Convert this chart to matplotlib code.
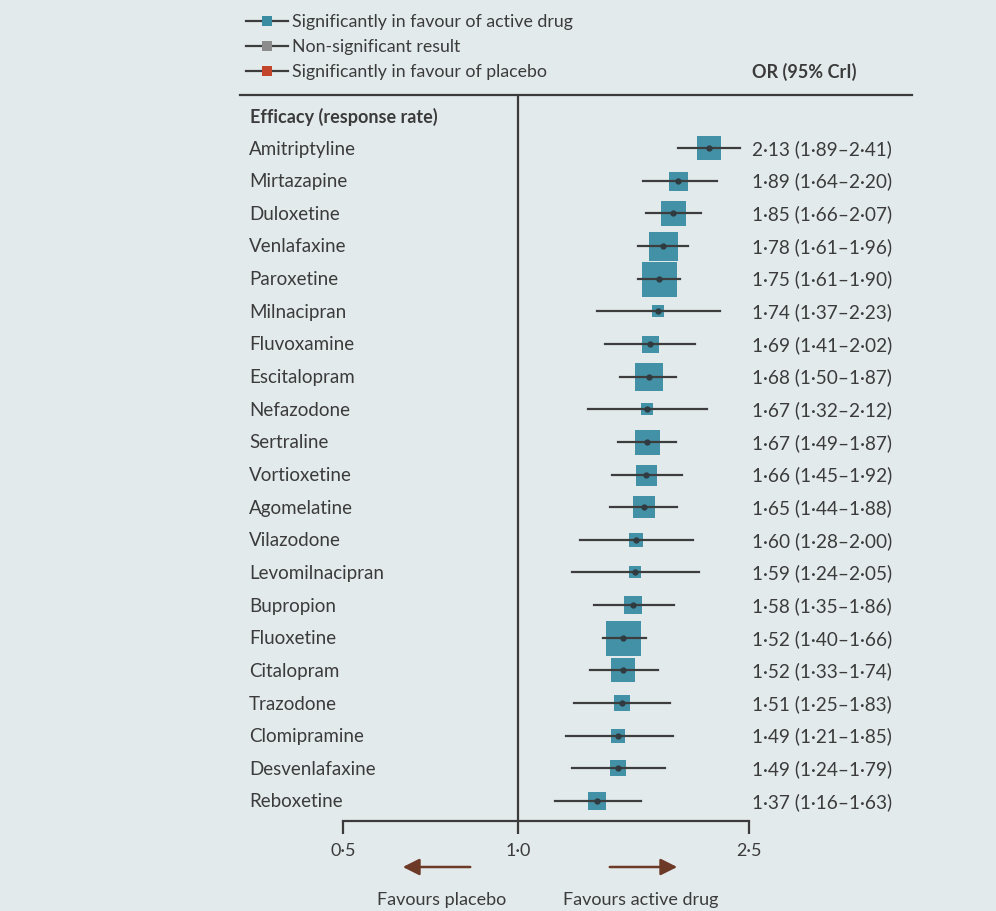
import matplotlib
matplotlib.use("Agg")
import matplotlib.pyplot as plt
from matplotlib.lines import Line2D
from matplotlib.patches import FancyArrowPatch

plt.rcParams['font.family'] = ['Lato', 'DejaVu Sans']

drugs = ["Amitriptyline", "Mirtazapine", "Duloxetine", "Venlafaxine", "Paroxetine",
         "Milnacipran", "Fluvoxamine", "Escitalopram", "Nefazodone", "Sertraline",
         "Vortioxetine", "Agomelatine", "Vilazodone", "Levomilnacipran", "Bupropion",
         "Fluoxetine", "Citalopram", "Trazodone", "Clomipramine", "Desvenlafaxine",
         "Reboxetine"]
odds_ratio = [2.13, 1.89, 1.85, 1.78, 1.75, 1.74, 1.69, 1.68, 1.67, 1.67, 1.66, 1.65,
              1.60, 1.59, 1.58, 1.52, 1.52, 1.51, 1.49, 1.49, 1.37]
ci_low = [1.89, 1.64, 1.66, 1.61, 1.61, 1.37, 1.41, 1.50, 1.32, 1.49, 1.45, 1.44,
          1.28, 1.24, 1.35, 1.40, 1.33, 1.25, 1.21, 1.24, 1.16]
ci_high = [2.41, 2.20, 2.07, 1.96, 1.90, 2.23, 2.02, 1.87, 2.12, 1.87, 1.92, 1.88,
           2.00, 2.05, 1.86, 1.66, 1.74, 1.83, 1.85, 1.79, 1.63]
# relative weight (square side, in pixels as seen in the figure)
weight_px = [24, 19, 25, 29, 35, 12, 17, 27, 12, 25, 21, 22, 13, 12, 18, 35, 24, 16, 14, 16, 18]
tick_values = [0.5, 1.0, 2.5]
tick_labels = ["0·5", "1·0", "2·5"]
legend_labels = ["Significantly in favour of active drug", "Non-significant result",
                 "Significantly in favour of placebo"]
legend_colors = ["#3a8ca3", "#8c8c8c", "#c2452b"]

W, H = 996, 912
DPI = 100
bg = "#e3eaec"
txt = "#3b3b3b"
fig = plt.figure(figsize=(W / DPI, H / DPI), dpi=DPI, facecolor=bg)

def fx(px):
    return px / W

def fy(py):
    return 1 - py / H

# main forest axes
x_left, x_right = 343, 749
y_top, y_bot = 96, 822
row0, rowstep = 149, 32.65
ax = fig.add_axes([fx(x_left), fy(y_bot), fx(x_right - x_left), (y_bot - y_top) / H])
ax.set_facecolor("none")
ax.set_xscale("log")
ax.set_xlim(0.5, 2.5)
ax.set_ylim((y_bot - row0) / rowstep, (y_top - row0) / rowstep)
for s in ["top", "right", "left"]:
    ax.spines[s].set_visible(False)
ax.spines["bottom"].set_color(txt)
ax.spines["bottom"].set_linewidth(1.6)
ax.set_yticks([])
ax.set_xticks(tick_values)
ax.set_xticklabels(tick_labels, fontsize=13, color=txt)
ax.xaxis.set_minor_locator(matplotlib.ticker.NullLocator())
ax.tick_params(axis="x", direction="out", length=9, width=1.6, color=txt, pad=6)

ax.axvline(1.0, color=txt, lw=1.6, zorder=1)

for i, (d, o, lo, hi, w) in enumerate(zip(drugs, odds_ratio, ci_low, ci_high, weight_px)):
    ax.plot([o], [i], marker="s", markersize=w / (DPI / 72), color="#3a8ca3",
            markeredgewidth=0, alpha=0.95, zorder=2)
    ax.plot([lo, hi], [i, i], color="#3d3d3d", lw=1.6, zorder=3)
    ax.plot([o], [i], marker="o", markersize=3.5, color="#2f3b40", zorder=4)
    fig.text(fx(249), fy(row0 + i * rowstep), d, fontsize=13.5, color=txt,
             ha="left", va="center")
    fig.text(fx(752), fy(row0 + i * rowstep),
             f"{o:.2f} ({lo:.2f}–{hi:.2f})".replace(".", "·"),
             fontsize=13.7, color=txt, ha="left", va="center")

fig.text(fx(250), fy(117), "Efficacy (response rate)", fontsize=13, color=txt,
         fontweight="bold", ha="left", va="center")
fig.text(fx(752), fy(72), "OR (95% CrI)", fontsize=13, color=txt,
         fontweight="bold", ha="left", va="center")

# top rule
fig.add_artist(Line2D([fx(240), fx(912)], [fy(96), fy(96)], color=txt, lw=1.6))

# legend
for k, (lab, col) in enumerate(zip(legend_labels, legend_colors)):
    yy = fy(22 + k * 25)
    fig.add_artist(Line2D([fx(246), fx(288)], [yy, yy], color="#3d3d3d", lw=1.6))
    fig.add_artist(Line2D([fx(267)], [yy], marker="s", markersize=7, color=col,
                          markeredgewidth=0))
    fig.text(fx(292), yy, lab, fontsize=12.8, color=txt, ha="left", va="center")

# direction arrows
arrow_col = "#6e3a28"
fig.add_artist(FancyArrowPatch((fx(473), fy(868)), (fx(400), fy(868)),
                               transform=fig.transFigure, arrowstyle="-|>,head_length=10,head_width=5",
                               color=arrow_col, lw=1.8, mutation_scale=1))
fig.add_artist(FancyArrowPatch((fx(607), fy(868)), (fx(680), fy(868)),
                               transform=fig.transFigure, arrowstyle="-|>,head_length=10,head_width=5",
                               color=arrow_col, lw=1.8, mutation_scale=1))
fig.text(fx(442), fy(900), "Favours placebo", fontsize=13, color=txt, ha="center", va="center")
fig.text(fx(641), fy(900), "Favours active drug", fontsize=13, color=txt, ha="center", va="center")

fig.savefig("out.png", dpi=DPI, facecolor=bg)
